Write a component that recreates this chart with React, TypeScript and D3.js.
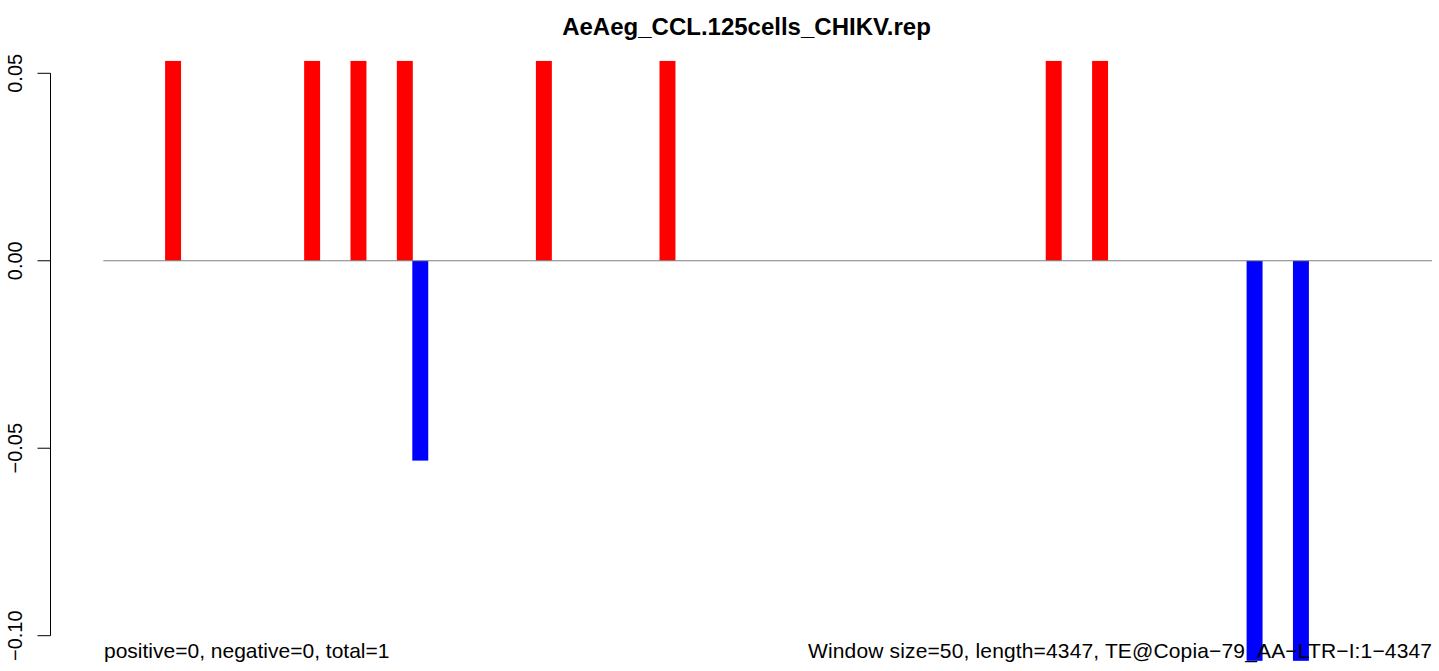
import { useEffect, useRef } from 'react';
import * as d3 from 'd3';

const chartTitle = 'AeAeg_CCL.125cells_CHIKV.rep';
const windowCount = 86;

// window index -> value (all other windows are zero)
const positiveWindows = [4, 13, 16, 19, 28, 36, 61, 64];
const positiveValues = [0.0533, 0.0533, 0.0533, 0.0533, 0.0533, 0.0533, 0.0533, 0.0533];
const negativeWindows = [20, 74, 77];
const negativeValues = [-0.0533, -0.1067, -0.1067];

const yTicks = [-0.1, -0.05, 0, 0.05];
const leftNote = 'positive=0, negative=0, total=1';
const rightNote = 'Window size=50, length=4347, TE@Copia\u221279_AA\u2212LTR\u2212I:1\u22124347';

const WIDTH = 1439;
const HEIGHT = 671;
const FONT = '"Liberation Sans", Arial, Helvetica, sans-serif';

export default function App() {
  const svgRef = useRef<SVGSVGElement>(null);

  useEffect(() => {
    if (!svgRef.current) return;
    const svg = d3.select(svgRef.current);
    svg.selectAll('*').remove();

    const bars = d3.range(windowCount).map(i => ({ idx: i, value: 0 }));
    positiveWindows.forEach((w, i) => { bars[w].value = positiveValues[i]; });
    negativeWindows.forEach((w, i) => { bars[w].value = negativeValues[i]; });

    const xScale = d3.scaleBand<number>()
      .domain(d3.range(windowCount))
      .range([103.3, 1432])
      .padding(0);

    const yScale = d3.scaleLinear()
      .domain([-0.1, 0.05])
      .range([635.7, 73.3]);

    // bars
    svg.append('g')
      .selectAll('rect')
      .data(bars.filter(d => d.value !== 0))
      .enter().append('rect')
      .attr('x', d => xScale(d.idx) || 0)
      .attr('width', xScale.bandwidth() + 0.5)
      .attr('y', d => Math.min(yScale(0), yScale(d.value)))
      .attr('height', d => Math.abs(yScale(d.value) - yScale(0)))
      .attr('fill', d => (d.value > 0 ? '#ff0000' : '#0000ff'));

    // zero line across all windows
    svg.append('line')
      .attr('x1', xScale.range()[0])
      .attr('x2', xScale.range()[1])
      .attr('y1', yScale(0))
      .attr('y2', yScale(0))
      .attr('stroke', '#808080')
      .attr('stroke-width', 1.2);

    // y axis, R style
    const axisX = 50.5;
    const axis = svg.append('g');
    axis.append('line')
      .attr('x1', axisX).attr('x2', axisX)
      .attr('y1', yScale(yTicks[0])).attr('y2', yScale(yTicks[yTicks.length - 1]))
      .attr('stroke', '#000').attr('stroke-width', 1);
    axis.selectAll('.tick')
      .data(yTicks)
      .enter().append('line')
      .attr('x1', axisX - 13).attr('x2', axisX)
      .attr('y1', d => yScale(d)).attr('y2', d => yScale(d))
      .attr('stroke', '#000').attr('stroke-width', 1);
    axis.selectAll('.label')
      .data(yTicks)
      .enter().append('text')
      .attr('transform', d => `translate(21.5,${yScale(d)}) rotate(-90)`)
      .attr('text-anchor', 'middle')
      .attr('font-family', FONT)
      .attr('font-size', 20)
      .text(d => d3.format('.2f')(d).replace('-', '\u2212'));

    // title
    svg.append('text')
      .attr('x', 746.5)
      .attr('y', 35)
      .attr('text-anchor', 'middle')
      .attr('font-family', FONT)
      .attr('font-size', 24)
      .attr('font-weight', 'bold')
      .text(chartTitle);

    // bottom notes
    svg.append('text')
      .attr('x', 104)
      .attr('y', 658)
      .attr('font-family', FONT)
      .attr('font-size', 21)
      .text(leftNote);

    svg.append('text')
      .attr('x', 808)
      .attr('y', 658)
      .attr('font-family', FONT)
      .attr('font-size', 21)
      .attr('textLength', 624)
      .attr('lengthAdjust', 'spacing')
      .text(rightNote);
  }, []);

  return (
    <svg
      ref={svgRef}
      width={WIDTH}
      height={HEIGHT}
      style={{ position: 'absolute', left: 0, top: 0, background: '#fff' }}
    />
  );
}
